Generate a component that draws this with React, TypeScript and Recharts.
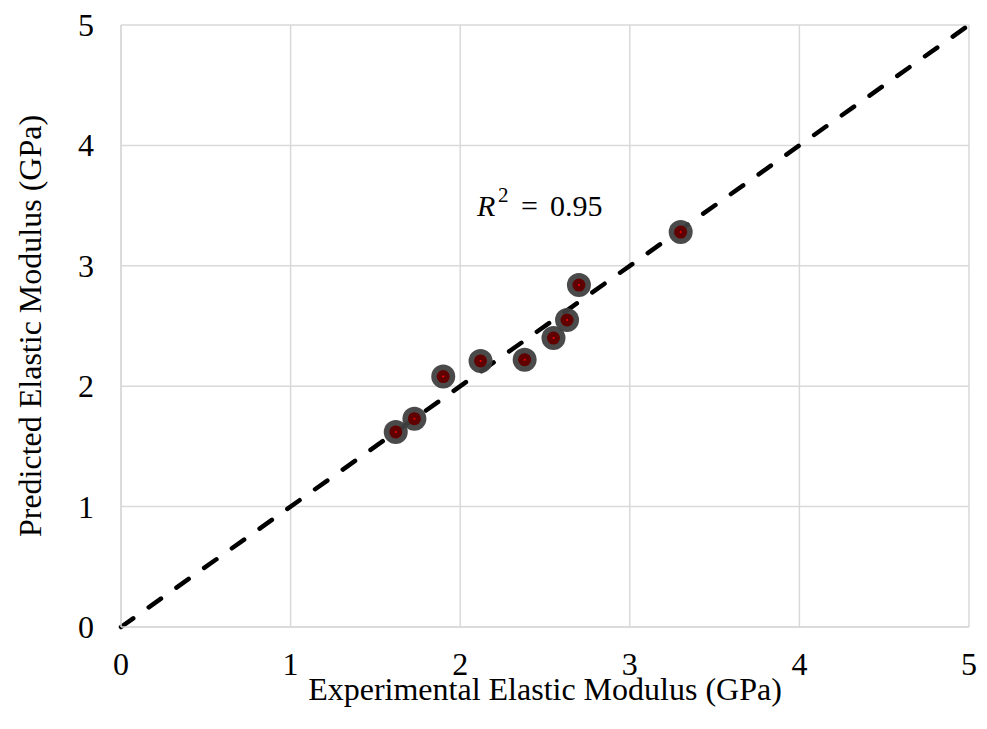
import { ScatterChart, Scatter, XAxis, YAxis, CartesianGrid, ReferenceLine } from 'recharts'

const experimental = [1.62, 1.73, 1.9, 2.12, 2.38, 2.55, 2.63, 2.7, 3.3]
const predicted = [1.62, 1.73, 2.08, 2.21, 2.22, 2.4, 2.55, 2.84, 3.28]
const axisTicks = [0, 1, 2, 3, 4, 5]
const parityLine = [
  { x: 0, y: 0 },
  { x: 5, y: 5 },
]

const FONT = '"Liberation Serif", "Times New Roman", serif'

const points = experimental.map((x, i) => ({ x, y: predicted[i] }))

function Marker(props: any) {
  const { cx, cy } = props
  if (cx == null || cy == null) return null
  return (
    <g>
      <circle cx={cx} cy={cy} r={12} fill="#404040" fillOpacity={0.95} />
      <circle cx={cx} cy={cy} r={6.5} fill="#600000" />
      <circle cx={cx} cy={cy} r={1} fill="#ff0000" />
    </g>
  )
}

function XTick(props: any) {
  const { x, y, payload } = props
  return (
    <text x={x} y={y + 37} textAnchor="middle" dominantBaseline="central" fontSize={32} fontFamily={FONT} fill="#000">
      {payload.value}
    </text>
  )
}

function YTick(props: any) {
  const { x, y, payload } = props
  return (
    <text x={x - 27} y={y} textAnchor="end" dominantBaseline="central" fontSize={32} fontFamily={FONT} fill="#000">
      {payload.value}
    </text>
  )
}

function XTitle(props: any) {
  const vb = props.viewBox
  return (
    <text x={vb.x + vb.width / 2} y={vb.y + 73} textAnchor="middle" fontSize={32} fontFamily={FONT} fill="#000">
      Experimental Elastic Modulus (GPa)
    </text>
  )
}

function YTitle(props: any) {
  const vb = props.viewBox
  const cy = vb.y + vb.height / 2
  return (
    <text
      x={30}
      y={cy}
      transform={`rotate(-90, 30, ${cy})`}
      textAnchor="middle"
      dominantBaseline="central"
      fontSize={32}
      fontFamily={FONT}
      fill="#000"
    >
      Predicted Elastic Modulus (GPa)
    </text>
  )
}

export default function App() {
  return (
    <div style={{ position: 'absolute', left: 0, top: 0, width: 987, height: 729, background: '#fff' }}>
      <ScatterChart width={987} height={729} margin={{ top: 25, right: 18, bottom: 0, left: 0 }}>
        <CartesianGrid stroke="#d9d9d9" strokeWidth={1.5} />
        <XAxis
          type="number"
          dataKey="x"
          domain={[0, 5]}
          ticks={axisTicks}
          height={102}
          tickSize={0}
          tickMargin={0}
          tick={<XTick />}
          stroke="#d9d9d9"
          strokeWidth={1.5}
          label={{ content: <XTitle /> }}
        />
        <YAxis
          type="number"
          dataKey="y"
          domain={[0, 5]}
          ticks={axisTicks}
          width={121}
          tickSize={0}
          tickMargin={0}
          tick={<YTick />}
          stroke="#d9d9d9"
          strokeWidth={1.5}
          label={{ content: <YTitle /> }}
        />
        <Scatter data={points} shape={<Marker />} isAnimationActive={false} />
        <ReferenceLine
          segment={parityLine}
          stroke="#000"
          strokeWidth={4.5}
          strokeDasharray="15 19"
          strokeLinecap="round"
        />
      </ScatterChart>
      <svg
        width={987}
        height={729}
        style={{ position: 'absolute', left: 0, top: 0, pointerEvents: 'none' }}
      >
        <g fontFamily={FONT} fill="#000">
          <text x={477} y={216} fontSize={30} fontStyle="italic">R</text>
          <text x={498} y={202} fontSize={21}>2</text>
          <text x={521} y={216} fontSize={30}>=</text>
          <text x={550} y={216} fontSize={30}>0.95</text>
        </g>
      </svg>
    </div>
  )
}
